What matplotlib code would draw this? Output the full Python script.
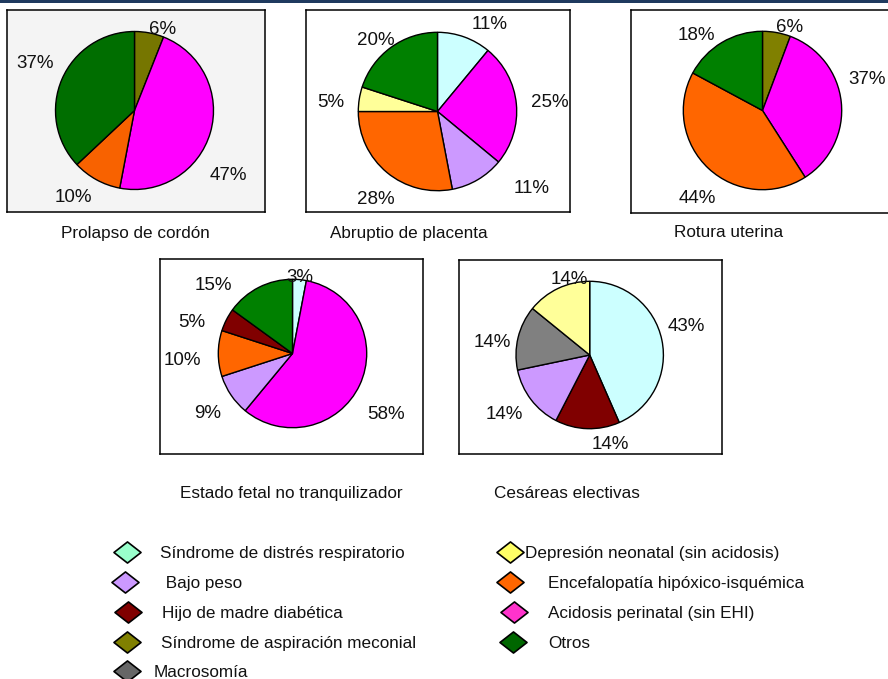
import numpy as np
import matplotlib
matplotlib.use('Agg')
import matplotlib.pyplot as plt
from matplotlib.path import Path
import matplotlib.patches as mpatches

plt.rcParams['font.family'] = ['Liberation Sans', 'DejaVu Sans']

W, H = 888, 679

# ---------------- data ----------------
titles = ["Prolapso de cordón", "Abruptio de placenta", "Rotura uterina",
          "Estado fetal no tranquilizador", "Cesáreas electivas"]

prolapso_cats = ["aspiracion", "acidosis", "encefalopatia", "otros"]
prolapso_vals = [6, 47, 10, 37]

abruptio_cats = ["distres", "acidosis", "bajo_peso", "encefalopatia", "depresion", "otros"]
abruptio_vals = [11, 25, 11, 28, 5, 20]

rotura_cats = ["aspiracion", "acidosis", "encefalopatia", "otros"]
rotura_vals = [6, 37, 44, 18]

estado_cats = ["distres", "acidosis", "bajo_peso", "encefalopatia", "hijo", "otros"]
estado_vals = [3, 58, 9, 10, 5, 15]

cesareas_cats = ["distres", "hijo", "bajo_peso", "macrosomia", "depresion"]
cesareas_vals = [43, 14, 14, 14, 14]

legend_left = ["Síndrome de distrés respiratorio", " Bajo peso", "Hijo de madre diabética",
               "Síndrome de aspiración meconial", "Macrosomía"]
legend_right = ["Depresión neonatal (sin acidosis)", "Encefalopatía hipóxico-isquémica",
                "Acidosis perinatal (sin EHI)", "Otros"]

# ---------------- styles ----------------
pie_colors = {'distres': '#CCFFFF', 'bajo_peso': '#CC99FF', 'hijo': '#800000',
              'aspiracion': '#808000', 'macrosomia': '#808080', 'depresion': '#FFFF99',
              'encefalopatia': '#FF6600', 'acidosis': '#FF00FF', 'otros': '#008000'}
shaded_colors = dict(pie_colors, aspiracion='#767600', encefalopatia='#F86200', otros='#006E00')

legend_left_colors = ['#99FFCC', '#CC99FF', '#800000', '#808000', '#666666']
legend_right_colors = ['#FFFF66', '#FF6600', '#FF33CC', '#006600']

panels = [(prolapso_cats, prolapso_vals), (abruptio_cats, abruptio_vals),
          (rotura_cats, rotura_vals), (estado_cats, estado_vals),
          (cesareas_cats, cesareas_vals)]

boxes = [(7, 10, 265, 212), (306, 10, 570, 212), (631, 10, 893, 213),
         (160, 259, 423, 454), (459, 260, 722, 454)]
centers = [(134.5, 110.5), (437.5, 111.5), (762.5, 110.5), (292.5, 353.5), (589.7, 355)]
radii = [79, 79.2, 79.2, 74.2, 73.7]
facecolors = ['#F4F4F4', 'white', 'white', 'white', 'white']
label_dist = [[1.11, 1.43, 1.32, 1.40],
              [1.31, 1.42, 1.52, 1.33, 1.35, 1.21],
              [1.13, 1.39, 1.36, 1.28],
              [1.06, 1.49, 1.38, 1.48, 1.43, 1.42],
              [1.38, 1.22, 1.40, 1.33, 1.09]]
label_off = [[7.8, 17.6, 6.9, 2.9],
             [10.5, -0.5, -21, -3.8, -2.8, -3.9],
             [7, -11.4, -5.9, -9.5],
             [-0.4, 7.1, 0, -2.7, -8.8, -21.3],
             [-5.8, -14.9, 3.4, -5.3, 10.7]]
title_pos = [(135, 238), (409, 238), (729, 237), (291, 498), (567, 498)]

legend_rows = [552, 582, 612, 642, 671]
left_marker_x = [126.7, 125, 127.5, 127, 127]
left_text_x = [160, 161, 161.7, 161, 153.3]
right_marker_x = [510, 510, 513.5, 513.3]
right_text_x = [525, 548, 548, 548]

PCT_FS = 13.5
TXT_FS = 12.3

fig = plt.figure(figsize=(W / 100, H / 100), dpi=100)

# overlay axes in pixel coordinates
ov = fig.add_axes([0, 0, 1, 1])
ov.set_xlim(0, W)
ov.set_ylim(H, 0)
ov.axis('off')
ov.add_patch(mpatches.Rectangle((0, 0), W, 2.5, color='#1F3A5F', lw=0))

for i, ((cats, vals), box, (cx, cy), r) in enumerate(zip(panels, boxes, centers, radii)):
    x0, y0, x1, y1 = box
    w, h = x1 - x0, y1 - y0
    ax = fig.add_axes([x0 / W, 1 - y1 / H, w / W, h / H])
    cmap = shaded_colors if i == 0 else pie_colors
    cols = [cmap[c] for c in cats]
    ccx, ccy = cx - x0, y1 - cy
    wedges, _ = ax.pie(vals, colors=cols, startangle=90, counterclock=False,
                       center=(ccx, ccy), radius=r, frame=True,
                       wedgeprops=dict(edgecolor='black', linewidth=1.0))
    ax.set_xlim(0, w)
    ax.set_ylim(0, h)
    ax.set_aspect('auto')
    ax.set_xticks([])
    ax.set_yticks([])
    ax.set_facecolor(facecolors[i])
    for sp in ax.spines.values():
        sp.set_linewidth(1.1)
        sp.set_color('black')
    total = sum(vals)
    for j, wdg in enumerate(wedges):
        mid = 0.5 * (wdg.theta1 + wdg.theta2)
        ang = np.deg2rad(mid - label_off[i][j])
        d = label_dist[i][j] * r
        tx = ccx + d * np.cos(ang)
        ty = ccy + d * np.sin(ang) - 6.7
        ax.text(tx, ty, f"{vals[j]}%", ha='center', va='baseline',
                fontsize=PCT_FS, color='#111111', clip_on=False)

for t, (tx, ty) in zip(titles, title_pos):
    ov.text(tx, ty, t, ha='center', va='baseline', fontsize=TXT_FS, color='#111111')

dverts = [(-1, 0), (0, 0.78), (1, 0), (0, -0.78), (-1, 0)]
dcodes = [Path.MOVETO, Path.LINETO, Path.LINETO, Path.LINETO, Path.CLOSEPOLY]
diamond = Path(dverts, dcodes)

for lab, col, mx, txx, ry in zip(legend_left, legend_left_colors, left_marker_x, left_text_x, legend_rows):
    ov.scatter([mx], [ry], s=380, marker=diamond, facecolor=col, edgecolor='black', linewidth=1.2, zorder=3)
    ov.text(txx, ry + 6.1, lab, ha='left', va='baseline', fontsize=TXT_FS, color='#111111')

for lab, col, mx, txx, ry in zip(legend_right, legend_right_colors, right_marker_x, right_text_x, legend_rows):
    ov.scatter([mx], [ry], s=380, marker=diamond, facecolor=col, edgecolor='black', linewidth=1.2, zorder=3)
    ov.text(txx, ry + 6.1, lab, ha='left', va='baseline', fontsize=TXT_FS, color='#111111')

fig.savefig('out.png', dpi=100)
